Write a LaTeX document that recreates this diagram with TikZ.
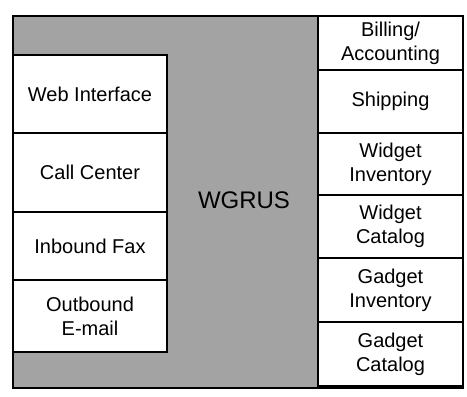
\documentclass[tikz,border=0pt]{standalone}
\usepackage{fontspec}
\setmainfont{Liberation Sans}
\usepackage{tikz}
\usetikzlibrary{positioning}

\begin{document}
\begin{tikzpicture}[x=1pt, y=-1pt,
  frame/.style={draw, line width=2.6pt, fill=gray!72},
  unit/.style={draw, line width=1.8pt, fill=white, align=center,
               inner sep=0pt, outer sep=0pt,
               font=\fontsize{20}{24}\selectfont},
  left unit/.style={unit, minimum width=154pt},
  right unit/.style={unit, minimum width=145pt}]
\useasboundingbox (0,0) rectangle (467,397);
% the system and its frame
\draw[frame] (13,16) rectangle (463,388);
\node[font=\fontsize{24}{28}\selectfont] (wgrus) at (244,200) {WGRUS};
% channels on the left
\node[left unit, minimum height=78pt] (web) at (90,94) {Web Interface};
\node[left unit, minimum height=79pt] (call) at (90,172.5) {Call Center};
\node[left unit, minimum height=68pt] (fax) at (90,246) {Inbound Fax};
\node[left unit, minimum height=72pt] (mail) at (90,316) {Outbound\\ E-mail};
% back-end systems on the right
\node[right unit, minimum height=54pt] (billing) at (390.5,43) {Billing/\\ Accounting};
\node[right unit, minimum height=63pt] (shipping) at (390.5,101.5) {Shipping};
\node[right unit, minimum height=62pt] (winv) at (390.5,164) {Widget\\ Inventory};
\node[right unit, minimum height=63pt] (wcat) at (390.5,226.5) {Widget\\ Catalog};
\node[right unit, minimum height=64pt] (ginv) at (390.5,290) {Gadget\\ Inventory};
\node[right unit, minimum height=64pt] (gcat) at (390.5,354) {Gadget\\ Catalog};
\end{tikzpicture}
\end{document}
